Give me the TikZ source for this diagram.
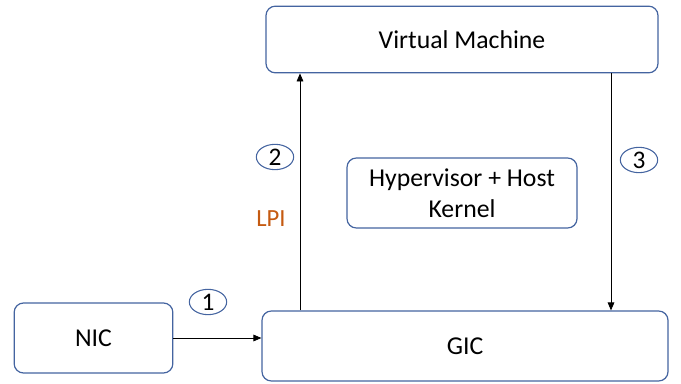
\documentclass[tikz,border=0pt]{standalone}
\usepackage{fontspec}
\setmainfont{Carlito}
\usetikzlibrary{arrows.meta,shapes.geometric}
\definecolor{boxline}{RGB}{68,100,160}
\definecolor{lpiorange}{RGB}{197,90,17}

\begin{document}
\begin{tikzpicture}[x=0.75pt, y=-0.75pt,
        block/.style={draw=boxline, line width=0.9pt, rounded corners=7pt,
            align=center, font=\fontsize{19.3}{23}\selectfont, inner sep=0pt},
        stepmark/.style={draw=boxline, line width=0.8pt, ellipse,
            minimum width=28pt, minimum height=19pt, inner sep=0pt,
            font=\fontsize{19}{21}\selectfont},
        flow/.style={line width=0.6pt, -{Triangle[length=6pt, width=5pt]}}]
        \useasboundingbox (0,0) rectangle (681,384);
        \node[block, minimum width=294pt, minimum height=50pt] (vm) at (462, 39.5) {Virtual Machine};
        \node[block, minimum width=172.5pt, minimum height=52.5pt] (hyp) at (462, 193) {Hypervisor + Host\\Kernel};
        \node[block, minimum width=119pt, minimum height=52.5pt] (nic) at (93.5, 338) {NIC};
        \node[block, minimum width=304.5pt, minimum height=52.5pt] (gic) at (465, 346) {GIC};
        \coordinate (up) at (300, 0);
        \coordinate (down) at (611, 0);
        \node[stepmark] (s1) at (208, 302) {1};
        \node[stepmark] (s2) at (275, 157) {2};
        \node[stepmark] (s3) at (639, 160) {3};
        \node[text=lpiorange, font=\fontsize{18.5}{21}\selectfont] (lpi) at (271, 219) {LPI};
        \draw[flow] (nic.east) -- (nic.east -| gic.west);
        \draw[flow] (up |- gic.north) -- (up |- vm.south);
        \draw[flow] (down |- vm.south) -- (down |- gic.north);
    \end{tikzpicture}
\end{document}
